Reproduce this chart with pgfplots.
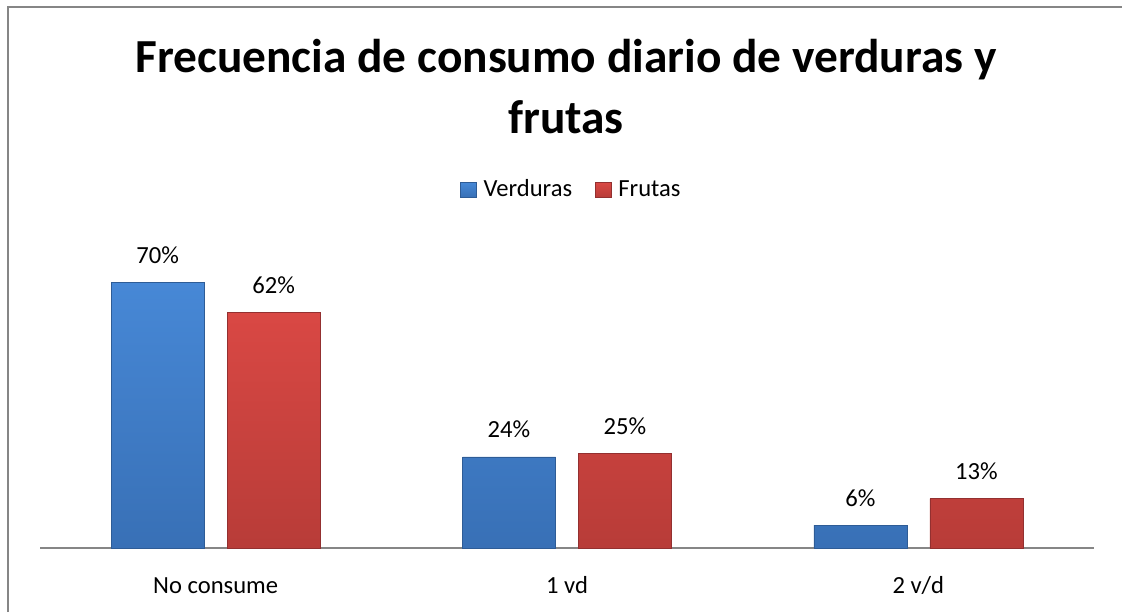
\documentclass[border=0pt]{standalone}
\usepackage{pgfplots}
\pgfplotsset{compat=1.18}
\usepackage{fontspec}
\setmainfont{Carlito}
\definecolor{bTop}{HTML}{4788D6}
\definecolor{bBot}{HTML}{3870B6}
\definecolor{bEdge}{HTML}{2E5C96}
\definecolor{rTop}{HTML}{D94844}
\definecolor{rBot}{HTML}{B83C38}
\definecolor{rEdge}{HTML}{933030}
\definecolor{axgray}{HTML}{868686}
\begin{document}
\begin{tikzpicture}
\useasboundingbox (0,0) rectangle (561pt,306pt);
\draw[axgray, line width=1pt] (4pt,0pt) -- (4pt,302.5pt) -- (561pt,302.5pt);
\node[anchor=base, font=\bfseries\fontsize{23.7}{28}\selectfont] at (283pt,269.5pt) {Frecuencia de consumo diario de verduras y};
\node[anchor=base, font=\bfseries\fontsize{23.7}{28}\selectfont] at (283pt,239.5pt) {frutas};
\begin{axis}[
  at={(20pt,32pt)}, anchor=south west,
  scale only axis, width=527pt, height=152pt,
  xmin=-0.5, xmax=2.5, ymin=0, ymax=80,
  axis x line*=bottom, axis y line=none,
  x axis line style={draw=axgray, line width=0.75pt},
  xtick={0,1,2}, xticklabels={No consume,1 vd,2 v/d},
  major tick length=0pt, ytick=\empty,
  xticklabel style={font=\fontsize{12.3}{14}\selectfont, anchor=base, yshift=-22.5pt},
  ybar=11.5pt, bar width=46.5pt,
  /pgf/number format/assume math mode=true,
  nodes near coords={\pgfmathprintnumber{\pgfplotspointmeta}\%},
  every node near coord/.append style={font=\fontsize{12.3}{14}\selectfont, anchor=base, yshift=9.5pt, inner sep=0pt},
  legend columns=2,
  legend style={at={(0.5033,1.178)}, anchor=center, draw=none, fill=none,
    font=\fontsize{12.3}{14}\selectfont,
    nodes={inner sep=0pt},
    /tikz/every odd column/.append style={column sep=3.5pt},
    /tikz/every even column/.append style={column sep=11.5pt}},
  clip=false,
]
\addplot[draw=bEdge, line width=0.3pt, top color=bTop, bottom color=bBot,
  legend image code/.code={\draw[draw=bEdge, line width=0.3pt, top color=bTop, bottom color=bBot] (0pt,-3.7pt) rectangle (7.8pt,3.7pt);}]
  coordinates {(0,70) (1,24) (2,6)};
\addplot[draw=rEdge, line width=0.3pt, top color=rTop, bottom color=rBot,
  legend image code/.code={\draw[draw=rEdge, line width=0.3pt, top color=rTop, bottom color=rBot] (0pt,-3.7pt) rectangle (7.8pt,3.7pt);}]
  coordinates {(0,62) (1,25) (2,13)};
\legend{Verduras,Frutas}
\end{axis}
\end{tikzpicture}
\end{document}
